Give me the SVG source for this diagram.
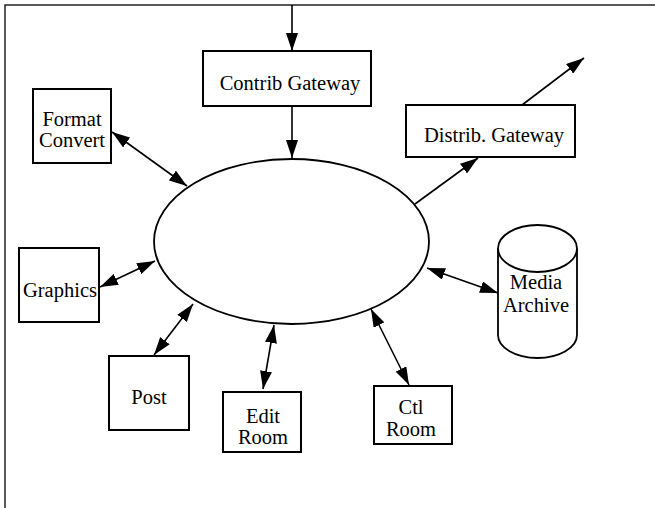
<svg xmlns="http://www.w3.org/2000/svg" width="655" height="508" viewBox="0 0 655 508">
<style>
.box{fill:#fff;stroke:#000;stroke-width:2}
.shape{fill:#fff;stroke:#000;stroke-width:1.8}
.frame{fill:none;stroke:#222;stroke-width:1.5}
.conn{fill:none;stroke:#000;stroke-width:1.6}
.lbl{font-family:"Liberation Serif","Times New Roman",serif;font-size:20.5px;fill:#000;text-anchor:middle}
</style>
<defs>
<marker id="ah" viewBox="0 0 18 12" refX="18" refY="6" markerWidth="18" markerHeight="12" markerUnits="userSpaceOnUse" orient="auto-start-reverse">
<path d="M0,0 L18,6 L0,12 z" fill="#000"/>
</marker>
</defs>
<rect width="655" height="508" fill="#fff"/>
<path class="frame" d="M5,508 L5,5 L655,5"/>
<g id="connectors">
<line class="conn" x1="292" y1="5" x2="292" y2="51" marker-end="url(#ah)"/>
<line class="conn" x1="292" y1="106" x2="292" y2="158" marker-end="url(#ah)"/>
<line class="conn" x1="112" y1="132" x2="187" y2="186" marker-start="url(#ah)" marker-end="url(#ah)"/>
<line class="conn" x1="100" y1="287" x2="155" y2="261" marker-start="url(#ah)" marker-end="url(#ah)"/>
<line class="conn" x1="154" y1="355" x2="193" y2="304" marker-start="url(#ah)" marker-end="url(#ah)"/>
<line class="conn" x1="263" y1="389" x2="274" y2="325" marker-start="url(#ah)" marker-end="url(#ah)"/>
<line class="conn" x1="409" y1="385" x2="371" y2="309" marker-start="url(#ah)" marker-end="url(#ah)"/>
<line class="conn" x1="498" y1="293" x2="427" y2="268" marker-start="url(#ah)" marker-end="url(#ah)"/>
<line class="conn" x1="415" y1="204" x2="478" y2="158" marker-end="url(#ah)"/>
<line class="conn" x1="522" y1="105" x2="584" y2="58" marker-end="url(#ah)"/>
</g>
<g id="hub">
<ellipse class="shape" cx="291.5" cy="241.5" rx="137.5" ry="82.5"/>
</g>
<g id="contrib-gateway">
<rect class="box" x="203" y="51" width="168" height="55"/>
<text class="lbl" x="290" y="90">Contrib Gateway</text>
</g>
<g id="distrib-gateway">
<rect class="box" x="406" y="105" width="169" height="52"/>
<text class="lbl" x="494" y="142">Distrib. Gateway</text>
</g>
<g id="format-convert">
<rect class="box" x="33" y="89" width="78" height="74"/>
<text class="lbl" x="72" y="126">Format</text>
<text class="lbl" x="72" y="147">Convert</text>
</g>
<g id="graphics">
<rect class="box" x="19" y="248" width="80" height="74"/>
<text class="lbl" x="60" y="297">Graphics</text>
</g>
<g id="post">
<rect class="box" x="109" y="356" width="80" height="74"/>
<text class="lbl" x="149" y="404">Post</text>
</g>
<g id="edit-room">
<rect class="box" x="223" y="392" width="78" height="60"/>
<text class="lbl" x="263" y="423">Edit</text>
<text class="lbl" x="263" y="444">Room</text>
</g>
<g id="ctl-room">
<rect class="box" x="374" y="386" width="78" height="58"/>
<text class="lbl" x="411" y="414">Ctl</text>
<text class="lbl" x="411" y="436">Room</text>
</g>
<g id="media-archive">
<path class="shape" d="M498,248.5 L498,335 A39.5,23 0 0 0 577,335 L577,248.5"/>
<ellipse class="shape" cx="537.5" cy="248.5" rx="39.5" ry="23.5"/>
<text class="lbl" x="536" y="289">Media</text>
<text class="lbl" x="536" y="312">Archive</text>
</g>
</svg>
